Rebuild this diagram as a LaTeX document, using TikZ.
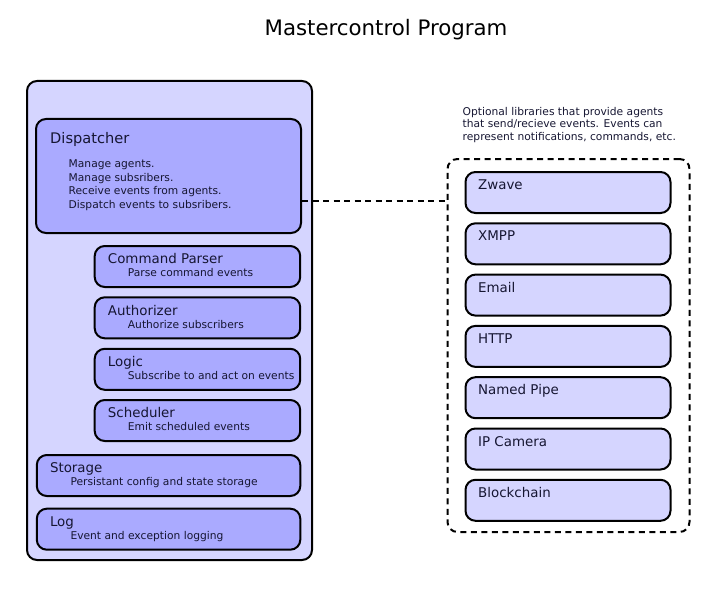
\documentclass[tikz,border=0pt]{standalone}
\usepackage{fontspec}
\setmainfont{DejaVu Sans}
\usetikzlibrary{calc}
\definecolor{lightfill}{RGB}{213,213,255}
\definecolor{darkfill}{RGB}{170,170,255}
\definecolor{txt}{RGB}{22,22,50}
\tikzset{
  boxbase/.style={draw=black, line width=2pt, rounded corners=10pt, rectangle, anchor=north west, inner sep=0pt},
  outerbox/.style={boxbase, fill=lightfill},
  compbox/.style={boxbase, fill=darkfill, minimum height=41pt},
  libbox/.style={boxbase, fill=lightfill, minimum width=205pt, minimum height=41pt},
  groupbox/.style={boxbase, line width=2pt, dash pattern=on 6pt off 4.5pt, rounded corners=10pt},
  ttl/.style={text=txt, font=\fontsize{13.4}{16}\selectfont, anchor=base west, inner sep=0pt},
  bigttl/.style={text=txt, font=\fontsize{14.6}{17}\selectfont, anchor=base west, inner sep=0pt},
  sub/.style={text=txt, font=\fontsize{10.7}{13}\selectfont, anchor=base west, inner sep=0pt},
  link/.style={line width=2pt, dash pattern=on 6pt off 4.5pt},
}
\begin{document}
\begin{tikzpicture}[x=1pt,y=-1pt]
\useasboundingbox (0,0) rectangle (720,591);
\node[text=black, font=\fontsize{21.3}{25}\selectfont, anchor=base, inner sep=0pt] (title) at (386,35.5) {Mastercontrol Program};

% main program
\node[outerbox, minimum width=285pt, minimum height=479pt] (mcp) at (26,80) {};
\node[compbox, minimum width=265pt, minimum height=114pt] (disp) at (35,118) {};
\node[bigttl] (dispt) at (50,143) {Dispatcher};
\node[sub] (d1) at (68.5,167.5) {Manage agents.};
\node[sub] (d2) at (68.5,181) {Manage subsribers.};
\node[sub] (d3) at (68.5,194.5) {Receive events from agents.};
\node[sub] (d4) at (68.5,208) {Dispatch events to subsribers.};

\foreach \nm/\y/\t/\s in {cp/245/Command Parser/Parse command events,
                           au/296.3/Authorizer/Authorize subscribers,
                           lo/347.8/Logic/Subscribe to and act on events,
                           sc/399/Scheduler/Emit scheduled events}{
  \node[compbox, minimum width=205.5pt] (\nm) at (93.7,\y) {};
  \node[ttl] (\nm t) at ([xshift=14pt,yshift=-18.8pt]\nm.north west) {\t};
  \node[sub] (\nm s) at ([xshift=34pt,yshift=-31.8pt]\nm.north west) {\s};
}
\foreach \nm/\y/\t/\s in {st/454/Storage/Persistant config and state storage,
                           lg/507.7/Log/Event and exception logging}{
  \node[compbox, minimum width=263.5pt] (\nm) at (35.8,\y) {};
  \node[ttl] (\nm t) at ([xshift=14pt,yshift=-18.5pt]\nm.north west) {\t};
  \node[sub] (\nm s) at ([xshift=34.5pt,yshift=-31.8pt]\nm.north west) {\s};
}

% optional libraries
\node[sub] (cap1) at (462.5,115.5) {Optional libraries that provide agents};
\node[sub] (cap2) at (462.5,128) {that send/recieve events. Events can};
\node[sub] (cap3) at (462.5,140.5) {represent notifications, commands, etc.};
\node[groupbox, minimum width=242pt, minimum height=373pt] (libs) at (446.5,158) {};

\foreach \nm/\y/\t in {zw/171/Zwave, xm/222.3/XMPP, em/273.6/Email, ht/324.9/HTTP,
                       np/376.2/Named Pipe, ip/427.5/IP Camera, bc/478.8/Blockchain}{
  \node[libbox] (\nm) at (464.5,\y) {};
  \node[ttl] (\nm t) at ([xshift=13.5pt,yshift=-18.5pt]\nm.north west) {\t};
}

% connector
\coordinate (cstart) at ([yshift=-25pt]disp.east);
\draw[link] (cstart) -- (cstart -| libs.west);
\end{tikzpicture}
\end{document}
